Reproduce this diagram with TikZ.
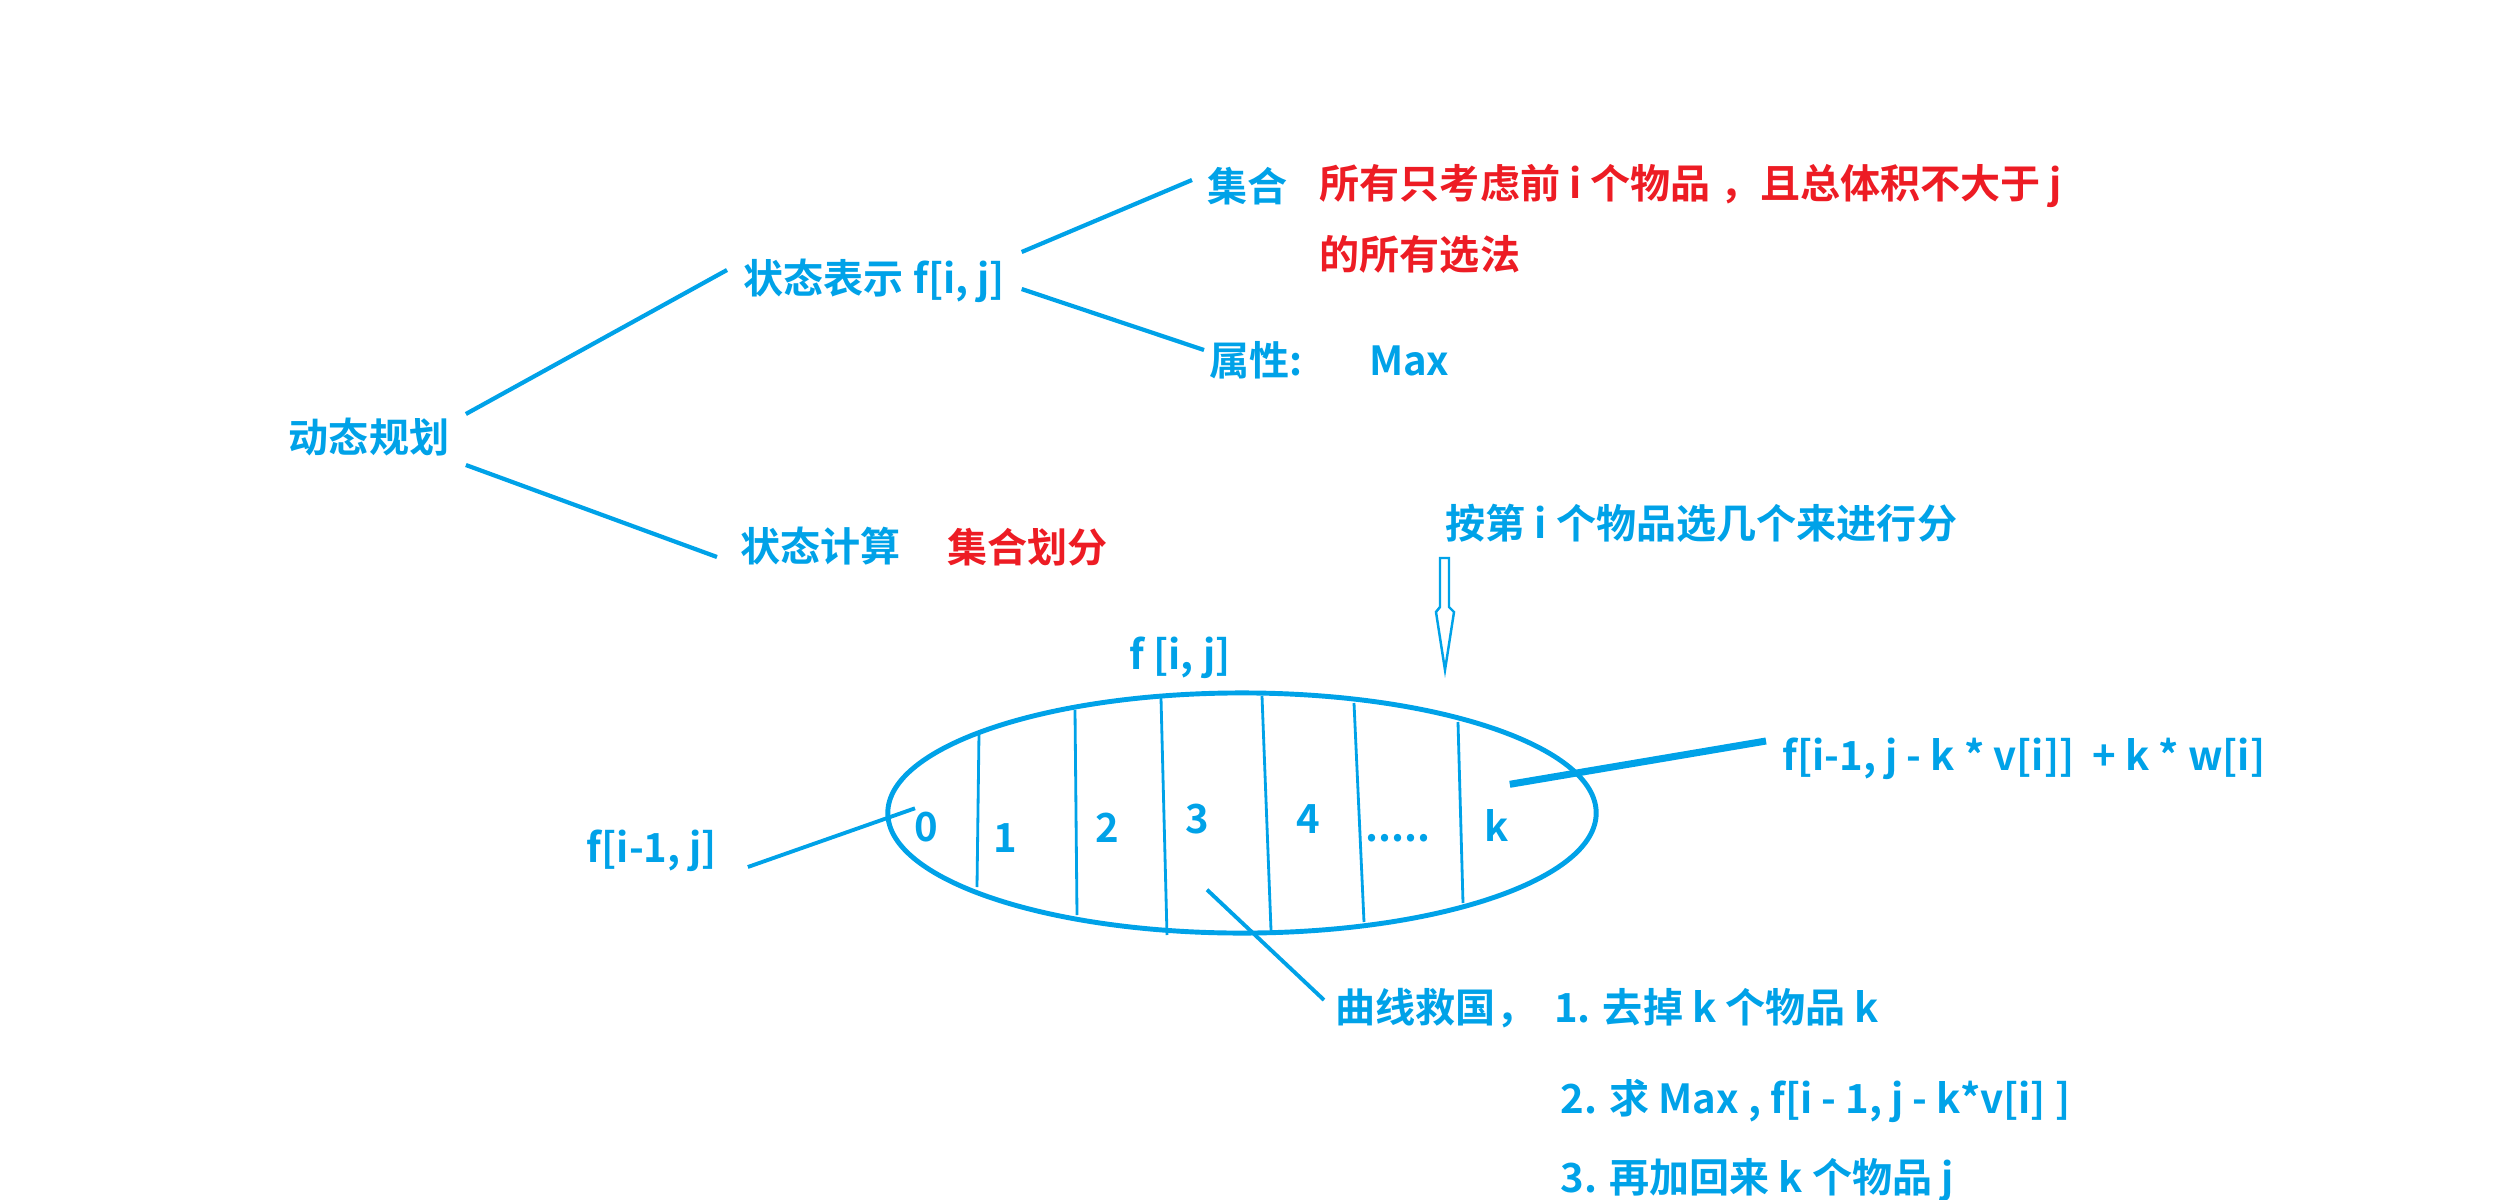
\documentclass[tikz,border=0pt]{standalone}
\usepackage{fontspec}
\newfontfamily\cjk{Noto Sans CJK SC}[BoldFont={Noto Sans CJK SC Bold}]
\usepackage{tikz}
\usetikzlibrary{positioning, shapes.geometric}
\definecolor{pblue}{RGB}{0,162,232}
\definecolor{pred}{RGB}{237,28,36}

\begin{document}
\begin{tikzpicture}[x=0.01cm, y=-0.01cm,
	lbl/.style={font=\cjk\bfseries\fontsize{11.4pt}{14pt}\selectfont, text=#1, inner sep=0pt},
	lbl/.default=pblue,
	branch/.style={draw=pblue, line width=1.2pt},
	cut/.style={draw=pblue, line width=0.8pt},
	ptr/.style={draw=pblue, line width=#1},
	ptr/.default=1.1pt]
	\useasboundingbox (0,0) rectangle (2517,1200);

	\node [lbl] (dp) at (369,437) {动态规划};
	\node [lbl, anchor=west] (repr) at (743,281) {状态表示 f[i, j]};
	\node [lbl, anchor=west] (calc) at (740,546) {状态计算};
	\node [lbl=pred, anchor=west] (part) at (947,547) {集合划分};
	\node [lbl, anchor=west] (set) at (1207,186) {集合};
	\node [lbl=pred, anchor=west] (desc) at (1319,186) {所有只考虑前 i 个物品 ，且总体积不大于 j};
	\node [lbl=pred, anchor=west] (desc2) at (1319,254) {的所有选法};
	\node [lbl, anchor=west] (attr) at (1209,360) {属性:\hspace{1.65em}Max};

	\draw [branch] ([shift={(16,-23)}]dp.east) -- ([shift={(-16,-11)}]repr.west);
	\draw [branch] ([shift={(16,28)}]dp.east) -- ([shift={(-23,11)}]calc.west);
	\draw [branch] ([shift={(16,-29)}]repr.east) -- ([shift={(-15,-6)}]set.west);
	\draw [branch] ([shift={(16,8)}]repr.east) -- ([shift={(-5,-10)}]attr.west);

	\node [lbl, anchor=west] (hint) at (1445,523) {按第 i 个物品选几个来进行分};
	\draw [draw=pblue, line width=0.7pt] (1440,558) -- (1449,558) -- (1449,607) -- (1454,612)
		-- (1445,670) -- (1436,612) -- (1440,607) -- cycle;

	\node [lbl] (fij) at (1180,658) {f [i, j]};
	\node [draw=pblue, line width=1.4pt, ellipse, minimum width=7.08cm, minimum height=2.4cm,
		inner sep=0pt] (ell) at (1242,813) {};

	\draw [cut] (979,733) -- (977,887);
	\draw [cut] (1075,710) -- (1077,915);
	\draw [cut] (1161,698) -- (1167,935);
	\draw [cut] (1262,696) -- (1271,930);
	\draw [cut] (1354,703) -- (1364,922);
	\draw [cut] (1458,722) -- (1463,903);

	\node [lbl] (n0) at (926,827) {0};
	\node [lbl] (n1) at (1005,838) {1};
	\node [lbl] (n2) at (1107,828) {2};
	\node [lbl] (n3) at (1197,819) {3};
	\node [lbl] (n4) at (1308,819) {4};
	\node [lbl] (n5) at (1398,838) {.....};
	\node [lbl] (nk) at (1497,825) {k};

	\node [lbl] (prev) at (652,851) {f[i-1, j]};
	\node [lbl, anchor=west] (take) at (1782,759) {f[i-1, j - k * v[i]]\ \ + k * w[i]};
	\draw [ptr] ([shift={(30,16)}]prev.east) -- ([shift={(-11,-3)}]n0.north);
	\draw [ptr=2pt] ([shift={(-16,-18)}]take.west) -- ([shift={(0,-24)}]nk.north east);

	\node [lbl, anchor=west] (note) at (1335,1008) {曲线救国，\hspace{0.45em}1. 去掉 k 个物品 k};
	\node [lbl, anchor=west] (note2) at (1560,1101) {2. 求 Max , f[i - 1, j - k*v[i] ]};
	\node [lbl, anchor=west] (note3) at (1560,1180) {3. 再加回来 k 个物品 j};
	\draw [ptr] ([shift={(10,55)}]n3.south) -- ([shift={(-11,-8)}]note.west);
\end{tikzpicture}
\end{document}
